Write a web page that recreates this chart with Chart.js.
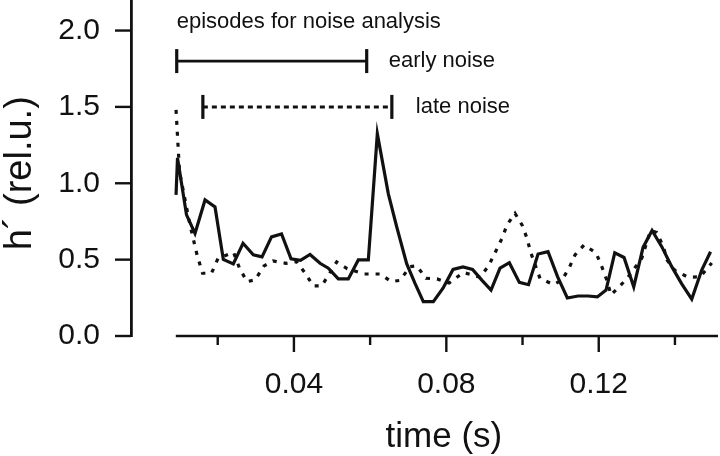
<!DOCTYPE html>
<html>
<head>
<meta charset="utf-8">
<script src="https://cdn.jsdelivr.net/npm/chart.js@4.4.1/dist/chart.umd.min.js"></script>
<style>
  html, body { margin: 0; padding: 0; background: #fff; }
  #wrap { width: 720px; height: 456px; }
</style>
</head>
<body>
<div id="wrap"><canvas id="c" width="720" height="456"></canvas></div>
<script>
// ---- data ----
const xTickValues = [0.02, 0.04, 0.06, 0.08, 0.10, 0.12, 0.14];
const xTickLabels = ['', '0.04', '', '0.08', '', '0.12', ''];
const yTickValues = [0.0, 0.5, 1.0, 1.5, 2.0];
const yTickLabels = ['0.0', '0.5', '1.0', '1.5', '2.0'];

const solidT = [0.00906,0.00945,0.01181,0.01404,0.01667,0.01929,0.02147,0.02409,0.02664,0.02934,0.03163,0.03412,0.03675,0.03924,0.04173,0.04423,0.04685,0.04903,0.05165,0.05428,0.0569,0.05953,0.06189,0.06478,0.06698,0.06961,0.07178,0.07396,0.07659,0.07913,0.08176,0.08438,0.08688,0.08937,0.09173,0.09409,0.09654,0.09916,0.10157,0.10407,0.10669,0.10919,0.11176,0.11457,0.11719,0.11963,0.12192,0.1242,0.12664,0.12919,0.13163,0.13399,0.13654,0.13916,0.14178,0.14441,0.14703,0.14934];
const solidH = [0.924,1.166,0.793,0.672,0.891,0.845,0.501,0.472,0.607,0.531,0.518,0.649,0.668,0.505,0.495,0.534,0.476,0.444,0.374,0.374,0.498,0.498,1.324,0.931,0.714,0.472,0.345,0.225,0.225,0.313,0.436,0.452,0.436,0.364,0.301,0.444,0.480,0.351,0.336,0.537,0.552,0.389,0.249,0.262,0.262,0.256,0.301,0.544,0.514,0.321,0.580,0.691,0.585,0.454,0.341,0.242,0.432,0.552];

const dotT = [0.00906,0.00997,0.01273,0.01457,0.01601,0.01837,0.02008,0.02415,0.02572,0.02769,0.02979,0.03215,0.03451,0.03793,0.04068,0.04291,0.04509,0.0473,0.05123,0.05394,0.0584,0.0626,0.06549,0.06785,0.07047,0.07223,0.07467,0.07756,0.08071,0.08451,0.08885,0.09108,0.09291,0.09462,0.09593,0.09803,0.09987,0.10118,0.1021,0.10459,0.10814,0.11037,0.1122,0.11378,0.11614,0.11929,0.12087,0.1221,0.12323,0.12507,0.12735,0.13129,0.1336,0.13522,0.13696,0.13793,0.14003,0.14344,0.14659,0.14966];
const dotH = [1.481,1.075,0.727,0.531,0.411,0.411,0.508,0.547,0.444,0.356,0.367,0.459,0.491,0.476,0.487,0.413,0.328,0.328,0.485,0.442,0.406,0.406,0.357,0.364,0.454,0.459,0.378,0.374,0.347,0.416,0.385,0.459,0.552,0.640,0.727,0.803,0.727,0.640,0.550,0.377,0.337,0.367,0.444,0.531,0.596,0.544,0.450,0.367,0.269,0.315,0.374,0.509,0.691,0.677,0.585,0.498,0.428,0.385,0.387,0.478];

// episode bars: [start time, end time], level
const earlyRange = [0.00924, 0.0591];
const earlyLevel = 1.8;
const lateRange = [0.0161, 0.0657];
const lateLevel = 1.5;

const titleText = 'episodes for noise analysis';
const earlyText = 'early noise';
const lateText = 'late noise';

const xMin = -0.00276, xMax = 0.1513, xAxisStart = 0.0090;
const yMin = 0, yMax = 2.2;
// ---------------------------------------

const INK = '#111';
const FONT = '"Liberation Sans", Arial, Helvetica, sans-serif';

const pts = (ts, hs) => ts.map((t, i) => ({ x: t, y: hs[i] }));

const axisPlugin = {
  id: 'customAxis',
  afterDraw(chart) {
    const { ctx, chartArea, scales: { x, y } } = chart;
    const y0 = y.getPixelForValue(0);
    ctx.save();
    ctx.strokeStyle = INK;
    ctx.lineCap = 'butt';
    // x axis line (starts where the data start)
    ctx.lineWidth = 2.6;
    ctx.beginPath();
    ctx.moveTo(x.getPixelForValue(xAxisStart), y0);
    ctx.lineTo(x.getPixelForValue(xMax), y0);
    ctx.stroke();
    ctx.lineWidth = 2.4;
    xTickValues.forEach((v, i) => {
      const px = x.getPixelForValue(v);
      const len = xTickLabels[i] ? 16 : 9;
      ctx.beginPath();
      ctx.moveTo(px, y0);
      ctx.lineTo(px, y0 + len);
      ctx.stroke();
    });
    // y tick marks (outward)
    yTickValues.forEach(v => {
      const py = y.getPixelForValue(v);
      ctx.beginPath();
      ctx.moveTo(chartArea.left - 16, py);
      ctx.lineTo(chartArea.left, py);
      ctx.stroke();
    });
    // annotation texts
    ctx.fillStyle = INK;
    ctx.font = '22px ' + FONT;
    ctx.textAlign = 'left';
    ctx.textBaseline = 'alphabetic';
    ctx.fillText(titleText, x.getPixelForValue(earlyRange[0]), y.getPixelForValue(earlyLevel) - 33);
    ctx.textBaseline = 'middle';
    ctx.fillText(earlyText, x.getPixelForValue(earlyRange[1]) + 22, y.getPixelForValue(earlyLevel));
    ctx.fillText(lateText, x.getPixelForValue(lateRange[1]) + 24, y.getPixelForValue(lateLevel));
    ctx.restore();
  }
};

new Chart(document.getElementById('c'), {
  type: 'line',
  data: {
    datasets: [
      {
        label: 'early',
        data: pts(solidT, solidH),
        borderColor: INK, borderWidth: 3.2, pointRadius: 0,
        tension: 0, borderJoinStyle: 'miter', fill: false
      },
      {
        label: 'late',
        data: pts(dotT, dotH),
        borderColor: INK, borderWidth: 3.2, pointRadius: 0,
        borderDash: [4, 7], tension: 0, fill: false
      },
      {
        label: 'early episode',
        data: earlyRange.map(t => ({ x: t, y: earlyLevel })),
        borderColor: INK, borderWidth: 2.6,
        pointStyle: 'line', pointRotation: 90, pointRadius: 12,
        pointBorderWidth: 3.2, pointBorderColor: INK, pointBackgroundColor: INK
      },
      {
        label: 'late episode',
        data: lateRange.map(t => ({ x: t, y: lateLevel })),
        borderColor: INK, borderWidth: 3, borderDash: [5, 4],
        pointStyle: 'line', pointRotation: 90, pointRadius: 12,
        pointBorderWidth: 3.2, pointBorderColor: INK, pointBackgroundColor: INK
      }
    ]
  },
  options: {
    responsive: false,
    animation: false,
    devicePixelRatio: 1,
    layout: { padding: { left: 0, right: 2, top: 0, bottom: 0 }, autoPadding: false },
    plugins: { legend: { display: false }, tooltip: { enabled: false } },
    elements: { line: { borderCapStyle: 'butt' } },
    scales: {
      x: {
        type: 'linear', min: xMin, max: xMax,
        grid: { display: false, drawTicks: false },
        border: { display: false },
        afterBuildTicks: s => { s.ticks = xTickValues.map(v => ({ value: v })); },
        afterFit: s => { s.height = 120; s.paddingLeft = 0; s.paddingRight = 0; },
        ticks: {
          autoSkip: false, maxRotation: 0, padding: 31, color: INK,
          font: { family: FONT, size: 30 },
          callback: (v, i) => xTickLabels[i]
        },
        title: {
          display: true, text: '    time (s)', color: INK,
          font: { family: FONT, size: 35, lineHeight: 1 },
          padding: { top: 0, bottom: 1 }
        }
      },
      y: {
        type: 'linear', min: yMin, max: yMax,
        grid: { drawOnChartArea: false, drawTicks: true, tickLength: 31, tickColor: 'rgba(0,0,0,0)', color: 'rgba(0,0,0,0)' },
        border: { display: true, color: INK, width: 2.8 },
        afterBuildTicks: s => { s.ticks = yTickValues.map(v => ({ value: v })); },
        afterFit: s => { s.width = 131; s.paddingTop = 0; s.paddingBottom = 0; },
        ticks: {
          padding: 0, color: INK,
          font: { family: FONT, size: 30, lineHeight: 0.05 },
          callback: (v, i) => yTickLabels[i]
        },
        title: {
          display: true, text: 'h´ (rel.u.) ', color: INK,
          font: { family: FONT, size: 38, lineHeight: 1.1 },
          padding: { top: 0, bottom: 0 }
        }
      }
    }
  },
  plugins: [axisPlugin]
});
</script>
</body>
</html>
